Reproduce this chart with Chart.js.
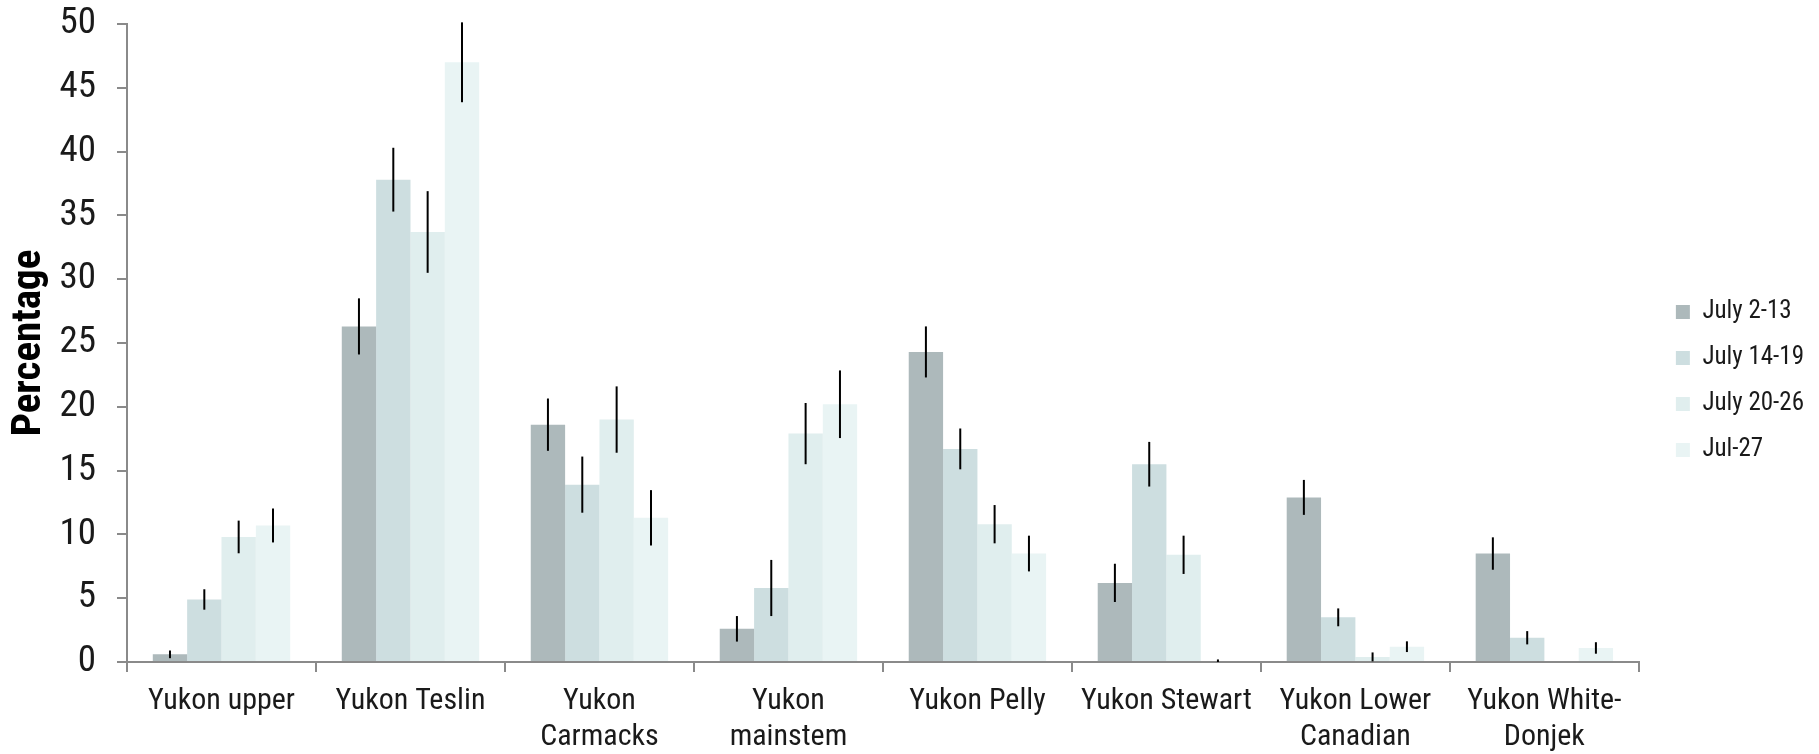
<!DOCTYPE html>
<html>
<head>
<meta charset="utf-8">
<script src="https://cdn.jsdelivr.net/npm/chart.js@4.4.1/dist/chart.umd.min.js"></script>
<style>
  html, body { margin: 0; padding: 0; background: #ffffff; }
  #wrap { width: 1819px; height: 754px; position: relative; }
</style>
</head>
<body>
<div id="wrap"><canvas id="chart" width="1819" height="754"></canvas></div>
<script>
// River regions (category labels, split over two lines where needed)
const regions = [
  ["Yukon upper"],
  ["Yukon Teslin"],
  ["Yukon", "Carmacks"],
  ["Yukon", "mainstem"],
  ["Yukon Pelly"],
  ["Yukon Stewart"],
  ["Yukon Lower", "Canadian"],
  ["Yukon White-", "Donjek"]
];

// Sampling periods
const periods = ["July 2-13", "July 14-19", "July 20-26", "Jul-27"];

// Percentage of fish by region for each period
const july2to13  = [0.6, 26.3, 18.6, 2.6, 24.3, 6.2, 12.9, 8.5];
const july14to19 = [4.9, 37.8, 13.9, 5.8, 16.7, 15.5, 3.5, 1.9];
const july20to26 = [9.8, 33.7, 19.0, 17.9, 10.8, 8.4, 0.4, 0];
const jul27      = [10.7, 47.0, 11.3, 20.2, 8.5, 0, 1.2, 1.1];

// Error (± value) for each bar
const july2to13Err  = [0.3, 2.2, 2.05, 1.0, 2.0, 1.5, 1.37, 1.27];
const july14to19Err = [0.8, 2.5, 2.2, 2.2, 1.6, 1.75, 0.7, 0.52];
const july20to26Err = [1.28, 3.2, 2.6, 2.4, 1.5, 1.5, 0.35, 0];
const jul27Err      = [1.33, 3.13, 2.17, 2.65, 1.4, 0.2, 0.42, 0.45];

// Y axis range
const yMin = 0, yMax = 50, yStep = 5;

const seriesValues = [july2to13, july14to19, july20to26, jul27];
const seriesErrors = [july2to13Err, july14to19Err, july20to26Err, jul27Err];
const seriesColors = ["#adb9bb", "#cddee0", "#e0eeee", "#e9f4f4"];

const FONT = "'Roboto Condensed', 'DejaVu Sans Condensed', sans-serif";
const AXIS_GREY = "#8a8a8a";
const TEXT = "#1a1a1a";

// Draws a vertical error line through the centre of each bar
const errorBars = {
  id: "errorBars",
  afterDatasetsDraw(chart) {
    const ctx = chart.ctx;
    const yScale = chart.scales.y;
    ctx.save();
    ctx.strokeStyle = "#000000";
    ctx.lineWidth = 2;
    chart.data.datasets.forEach((ds, di) => {
      const meta = chart.getDatasetMeta(di);
      meta.data.forEach((bar, i) => {
        const err = ds.errors[i];
        if (!err) return;
        const v = ds.data[i];
        const yTop = yScale.getPixelForValue(v + err);
        const yBot = yScale.getPixelForValue(Math.max(v - err, 0));
        ctx.beginPath();
        ctx.moveTo(bar.x, yTop);
        ctx.lineTo(bar.x, yBot);
        ctx.stroke();
      });
    });
    ctx.restore();
  }
};

// Moves the legend block a little further from the plot area
const legendOffset = {
  id: "legendOffset",
  afterLayout(chart) {
    const lg = chart.legend;
    if (!lg) return;
    const dx = 16, dy = 4;
    lg.left += dx; lg.right += dx;
    lg.top += dy; lg.bottom += dy;
  }
};

const datasets = periods.map((label, i) => ({
  label: label,
  data: seriesValues[i],
  errors: seriesErrors[i],
  backgroundColor: seriesColors[i],
  borderWidth: 0,
  categoryPercentage: 0.727,
  barPercentage: 1.0
}));

new Chart(document.getElementById("chart"), {
  type: "bar",
  data: { labels: regions, datasets: datasets },
  plugins: [errorBars, legendOffset],
  options: {
    responsive: false,
    animation: false,
    devicePixelRatio: 1,
    layout: { padding: { top: 0, right: 21, bottom: 0, left: 0 } },
    plugins: {
      tooltip: { enabled: false },
      legend: {
        position: "right",
        align: "center",
        labels: {
          boxWidth: 14,
          boxHeight: 14,
          padding: 21,
          color: TEXT,
          font: { family: FONT, size: 25 }
        }
      }
    },
    scales: {
      x: {
        grid: {
          display: true,
          offset: true,
          drawOnChartArea: false,
          drawTicks: true,
          tickLength: 10,
          color: AXIS_GREY,
          lineWidth: 2
        },
        border: { display: true, color: AXIS_GREY, width: 2 },
        ticks: {
          color: TEXT,
          padding: 11,
          maxRotation: 0,
          autoSkip: false,
          font: { family: FONT, size: 30, lineHeight: 1.22 }
        },
        afterFit(scale) { scale.height = 92; }
      },
      y: {
        min: yMin,
        max: yMax,
        ticks: {
          stepSize: yStep,
          color: TEXT,
          padding: 21,
          font: { family: FONT, size: 37 }
        },
        grid: {
          display: true,
          drawOnChartArea: false,
          drawTicks: true,
          tickLength: 10,
          color: AXIS_GREY,
          lineWidth: 2
        },
        border: { display: true, color: AXIS_GREY, width: 2 },
        title: {
          display: true,
          text: "Percentage",
          color: "#000000",
          padding: { top: 5, bottom: 0 },
          font: { family: FONT, size: 41, weight: "bold", lineHeight: 1.2 }
        },
        afterFit(scale) {
          scale.width = 127;
          scale.paddingTop = 24;
          scale.paddingBottom = 24;
        }
      }
    }
  }
});
</script>
</body>
</html>
